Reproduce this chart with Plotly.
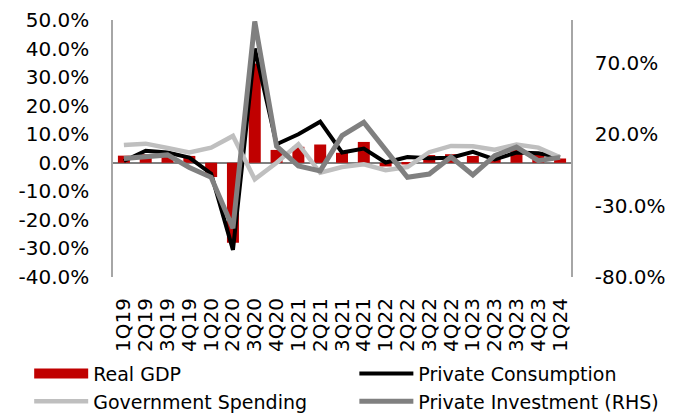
import plotly.graph_objects as go

quarters = ["1Q19", "2Q19", "3Q19", "4Q19", "1Q20", "2Q20", "3Q20", "4Q20",
            "1Q21", "2Q21", "3Q21", "4Q21", "1Q22", "2Q22", "3Q22", "4Q22",
            "1Q23", "2Q23", "3Q23", "4Q23", "1Q24"]

# Quarter-on-quarter growth, annualised (%)
real_gdp = [2.5, 3.0, 3.2, 2.4, -5.0, -28.0, 34.8, 4.5, 5.6, 6.4, 3.5,
            7.3, -1.3, -0.6, 2.7, 3.0, 2.4, 2.1, 4.9, 3.4, 1.5]
private_consumption = [0.6, 4.2, 3.6, 1.8, -3.8, -30.5, 40.0, 6.5, 10.0, 14.4, 3.6,
                       5.0, 0.1, 2.0, 1.6, 1.8, 3.8, 1.2, 3.6, 3.3, 2.0]
government_spending = [6.2, 6.7, 5.2, 3.6, 5.3, 9.4, -5.8, 0.0, 6.5, -3.5, -1.5,
                       -0.5, -2.6, -1.5, 3.7, 5.9, 5.8, 4.6, 6.4, 5.3, 1.9]
private_investment = [3.0, 4.4, 5.5, -3.3, -10.2, -45.9, 99.0, 11.6, -2.2, -5.7, 19.0,
                      28.3, 8.5, -10.2, -7.9, 4.0, -8.5, 5.0, 11.0, 1.5, 3.8]

left_ticks = list(range(-40, 51, 10))
right_ticks = [-80, -30, 20, 70]

FONT = "DejaVu Sans"
RED = "#C00000"
LIGHT = "#BFBFBF"
DARK = "#808080"

fig = go.Figure()

fig.add_trace(go.Bar(
    x=quarters, y=real_gdp, name="Real GDP", marker_color=RED,
    marker_line_width=0, showlegend=False, legendgroup="gdp",
))
# wide red swatch for the bar series in the legend
fig.add_trace(go.Scatter(
    x=[None], y=[None], mode="lines", name="Real GDP",
    line=dict(color=RED, width=10), legendgroup="gdp", legend="legend",
))
fig.add_trace(go.Scatter(
    x=quarters, y=private_consumption, mode="lines", name="Private Consumption",
    line=dict(color="black", width=4), legend="legend2",
))
fig.add_trace(go.Scatter(
    x=quarters, y=government_spending, mode="lines", name="Government Spending",
    line=dict(color=LIGHT, width=4.5), legend="legend",
))
fig.add_trace(go.Scatter(
    x=quarters, y=private_investment, mode="lines", name="Private Investment (RHS)",
    line=dict(color=DARK, width=5), yaxis="y2", legend="legend2",
))

legend_common = dict(
    orientation="v", yanchor="top", y=-0.302, xanchor="left",
    itemwidth=54, font=dict(family=FONT, size=19), tracegroupgap=0,
    bgcolor="rgba(0,0,0,0)", borderwidth=0,
)

fig.update_layout(
    width=689, height=414,
    margin=dict(l=113, r=118, t=20, b=137, autoexpand=False),
    paper_bgcolor="white", plot_bgcolor="white",
    font=dict(family=FONT, size=20, color="black"),
    bargap=0.45,
    showlegend=True,
    legend=dict(x=-0.183, **legend_common),
    legend2=dict(x=0.527, **legend_common),
    xaxis=dict(
        type="category", tickmode="array", tickvals=quarters, ticktext=quarters,
        tickangle=-90, showgrid=False, showline=False,
        ticks="", ticklabelstandoff=16, tickfont=dict(size=20),
    ),
    yaxis=dict(
        range=[-40, 50], tickvals=left_ticks,
        ticktext=[f"{v:.1f}%" for v in left_ticks],
        showgrid=False, showline=True, linecolor="#A6A6A6", linewidth=1.5,
        zeroline=True, zerolinecolor=DARK, zerolinewidth=2,
        ticks="", ticklabelstandoff=18,
    ),
    yaxis2=dict(
        range=[-80, 100], tickvals=right_ticks,
        ticktext=[f"{v:.1f}%" for v in right_ticks],
        overlaying="y", side="right", showgrid=False, zeroline=False,
        showline=True, linecolor="#A6A6A6", linewidth=1.5,
        ticks="", ticklabelstandoff=18,
    ),
)

fig.write_html("out.html")
